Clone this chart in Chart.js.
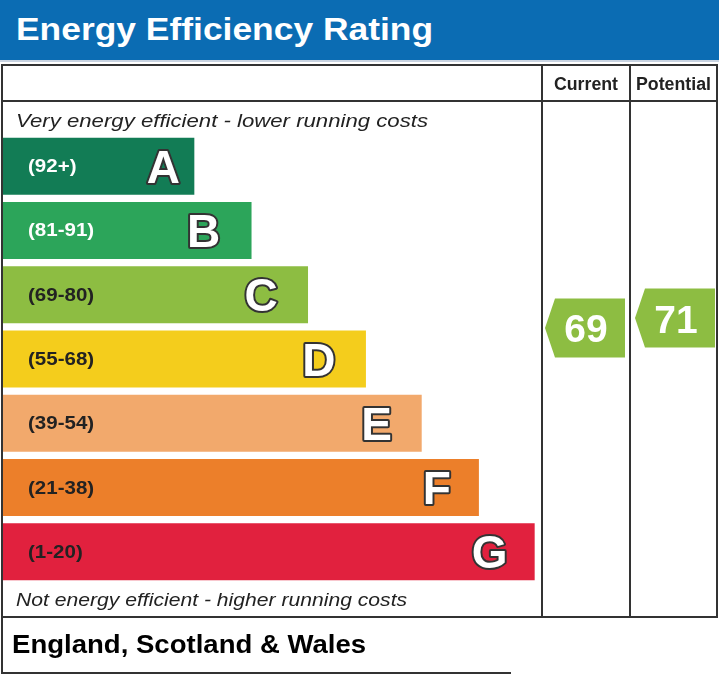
<!DOCTYPE html>
<html lang="en">

<head>
    <meta charset="UTF-8">
    <title>Energy Efficiency Rating</title>
    <script src="https://cdn.jsdelivr.net/npm/chart.js"></script>
    <style>
        html, body { margin: 0; padding: 0; background: #fff; }
        #epc { position: relative; width: 719px; height: 675px; overflow: hidden;
               font-family: "Liberation Sans", Arial, sans-serif; }
        #epc canvas { position: absolute; left: 0; top: 0; }
        .cabecalho { position: absolute; left: 0; top: 0; width: 719px; height: 60px; background: #0b6cb3; }
        .faixa { position: absolute; left: 0; top: 60px; width: 719px; height: 2px; background: #c9d4e2; }
        .linha { position: absolute; background: #333; }
        .txt { position: absolute; white-space: nowrap; transform-origin: left center; }
        .titulo { left: 16px; top: 14px; font-size: 31px; line-height: 31px; font-weight: bold; color: #fff; }
        .legenda { left: 16px; font-size: 19px; line-height: 19px; font-style: italic; color: #222; }
        .coluna { top: 76px; font-size: 17.5px; line-height: 17.5px; font-weight: bold; color: #222;
                  text-align: center; transform-origin: center center; }
        .rodape { left: 12px; top: 632px; font-size: 25px; line-height: 25px; font-weight: bold; color: #000; }
    </style>
</head>

<body>
    <div id="epc">
        <canvas id="graficoEpc" width="719" height="675"></canvas>
        <div class="cabecalho"></div>
        <div class="faixa"></div>
        <div class="txt titulo" data-w="417">Energy Efficiency Rating</div>

        <!-- moldura -->
        <div class="linha" style="left:1px; top:64px; width:717px; height:2px;"></div>
        <div class="linha" style="left:1px; top:100px; width:717px; height:2px;"></div>
        <div class="linha" style="left:1px; top:616px; width:717px; height:2px;"></div>
        <div class="linha" style="left:1px; top:64px; width:2px; height:610px;"></div>
        <div class="linha" style="left:716px; top:64px; width:2px; height:554px;"></div>
        <div class="linha" style="left:541px; top:64px; width:2px; height:554px;"></div>
        <div class="linha" style="left:629px; top:64px; width:2px; height:554px;"></div>
        <div class="linha" style="left:1px; top:672px; width:510px; height:2px;"></div>

        <div class="txt coluna" style="left:543px; width:86px;" data-w="64">Current</div>
        <div class="txt coluna" style="left:631px; width:85px;" data-w="75">Potential</div>

        <div class="txt legenda" style="top:111px;" data-w="412">Very energy efficient - lower running costs</div>
        <div class="txt legenda" style="top:590px;" data-w="391">Not energy efficient - higher running costs</div>

        <div class="txt rodape" data-w="354">England, Scotland &amp; Wales</div>
    </div>

    <script>
        // faixas de classificacao (de cima para baixo)
        const bandLetters = ['A', 'B', 'C', 'D', 'E', 'F', 'G'];
        const bandRanges = ['(92+)', '(81-91)', '(69-80)', '(55-68)', '(39-54)', '(21-38)', '(1-20)'];
        const bandLengths = [26.9, 34.9, 42.8, 50.9, 58.7, 66.7, 74.5]; // % da largura
        const bandColors = ['#127c55', '#2ca55a', '#8dbd42', '#f4cd1c', '#f2a96c', '#ec7f2a', '#e1213e'];
        const bandTextColors = ['#fff', '#fff', '#222', '#222', '#222', '#222', '#222'];

        // notas atual e potencial
        const ratingColumns = ['Current', 'Potential'];
        const ratingValues = [69, 71];
        const ratingColors = ['#8dbd42', '#8dbd42'];

        // ajusta a largura dos textos fixos
        document.querySelectorAll('.txt[data-w]').forEach(function (el) {
            const alvo = parseFloat(el.dataset.w);
            const r = document.createRange();
            r.selectNodeContents(el);
            const larg = r.getBoundingClientRect().width;
            el.style.transform = 'scaleX(' + (alvo / larg).toFixed(3) + ')';
        });

        // distancia do centro da letra ate o fim da barra
        const recuoLetra = [31, 48, 47, 47, 45, 42, 45];

        // posicao horizontal das setas em cada coluna
        const colunasSetas = {
            Current: { left: 545, right: 625 },
            Potential: { left: 635, right: 715 }
        };

        function textoEsticado(ctx, texto, x, y, sx) {
            ctx.save();
            ctx.translate(x, y);
            ctx.scale(sx, 1);
            ctx.fillText(texto, 0, 0);
            ctx.restore();
        }

        const rotulosFaixas = {
            id: 'rotulosFaixas',
            afterDatasetsDraw(chart) {
                const ctx = chart.ctx;
                const meta = chart.getDatasetMeta(0);
                meta.data.forEach(function (bar, i) {
                    // faixa de pontos
                    ctx.save();
                    ctx.font = 'bold 18px "Liberation Sans", Arial, sans-serif';
                    ctx.fillStyle = bandTextColors[i];
                    ctx.textAlign = 'left';
                    ctx.textBaseline = 'middle';
                    textoEsticado(ctx, bandRanges[i], bar.base + 26, bar.y + 1, 1.14);
                    // letra
                    ctx.font = 'bold 46px "Liberation Sans", Arial, sans-serif';
                    ctx.textAlign = 'center';
                    ctx.textBaseline = 'alphabetic';
                    ctx.lineJoin = 'round';
                    ctx.lineWidth = 4;
                    ctx.strokeStyle = '#333';
                    ctx.fillStyle = '#fff';
                    const xl = bar.x - recuoLetra[i];
                    const yl = bar.y + 16.5;
                    ctx.strokeText(bandLetters[i], xl, yl);
                    ctx.fillText(bandLetters[i], xl, yl);
                    ctx.restore();
                });
            }
        };

        const setasNotas = {
            id: 'setasNotas',
            afterDatasetsDraw(chart) {
                const ctx = chart.ctx;
                const escala = chart.scales.rating;
                ratingValues.forEach(function (valor, i) {
                    const col = colunasSetas[ratingColumns[i]];
                    const yc = escala.getPixelForValue(valor);
                    const h = 29.5;
                    const ponta = 10;
                    ctx.save();
                    ctx.fillStyle = ratingColors[i];
                    ctx.beginPath();
                    ctx.moveTo(col.left, yc);
                    ctx.lineTo(col.left + ponta, yc - h);
                    ctx.lineTo(col.right, yc - h);
                    ctx.lineTo(col.right, yc + h);
                    ctx.lineTo(col.left + ponta, yc + h);
                    ctx.closePath();
                    ctx.fill();
                    ctx.fillStyle = '#fff';
                    ctx.font = 'bold 39px "Liberation Sans", Arial, sans-serif';
                    ctx.textAlign = 'center';
                    ctx.textBaseline = 'alphabetic';
                    ctx.fillText(String(valor), (col.left + col.right) / 2 + 1, yc + 14.5);
                    ctx.restore();
                });
            }
        };

        const ctx = document.getElementById('graficoEpc').getContext('2d');
        const graficoEpc = new Chart(ctx, {
            type: 'bar',
            data: {
                labels: bandLetters,
                datasets: [{
                    data: bandLengths,
                    backgroundColor: bandColors,
                    borderWidth: 0,
                    categoryPercentage: 1,
                    barPercentage: 0.887
                }]
            },
            options: {
                indexAxis: 'y',
                responsive: false,
                animation: false,
                devicePixelRatio: 1,
                layout: {
                    padding: { left: 2, right: 2, top: 134, bottom: 91 }
                },
                plugins: {
                    legend: { display: false },
                    tooltip: { enabled: false }
                },
                scales: {
                    x: { type: 'linear', min: 0, max: 100, display: false },
                    y: { type: 'category', display: false },
                    rating: { type: 'linear', axis: 'y', min: 21.7, max: 103.7, display: false }
                }
            },
            plugins: [rotulosFaixas, setasNotas]
        });
    </script>
</body>

</html>
